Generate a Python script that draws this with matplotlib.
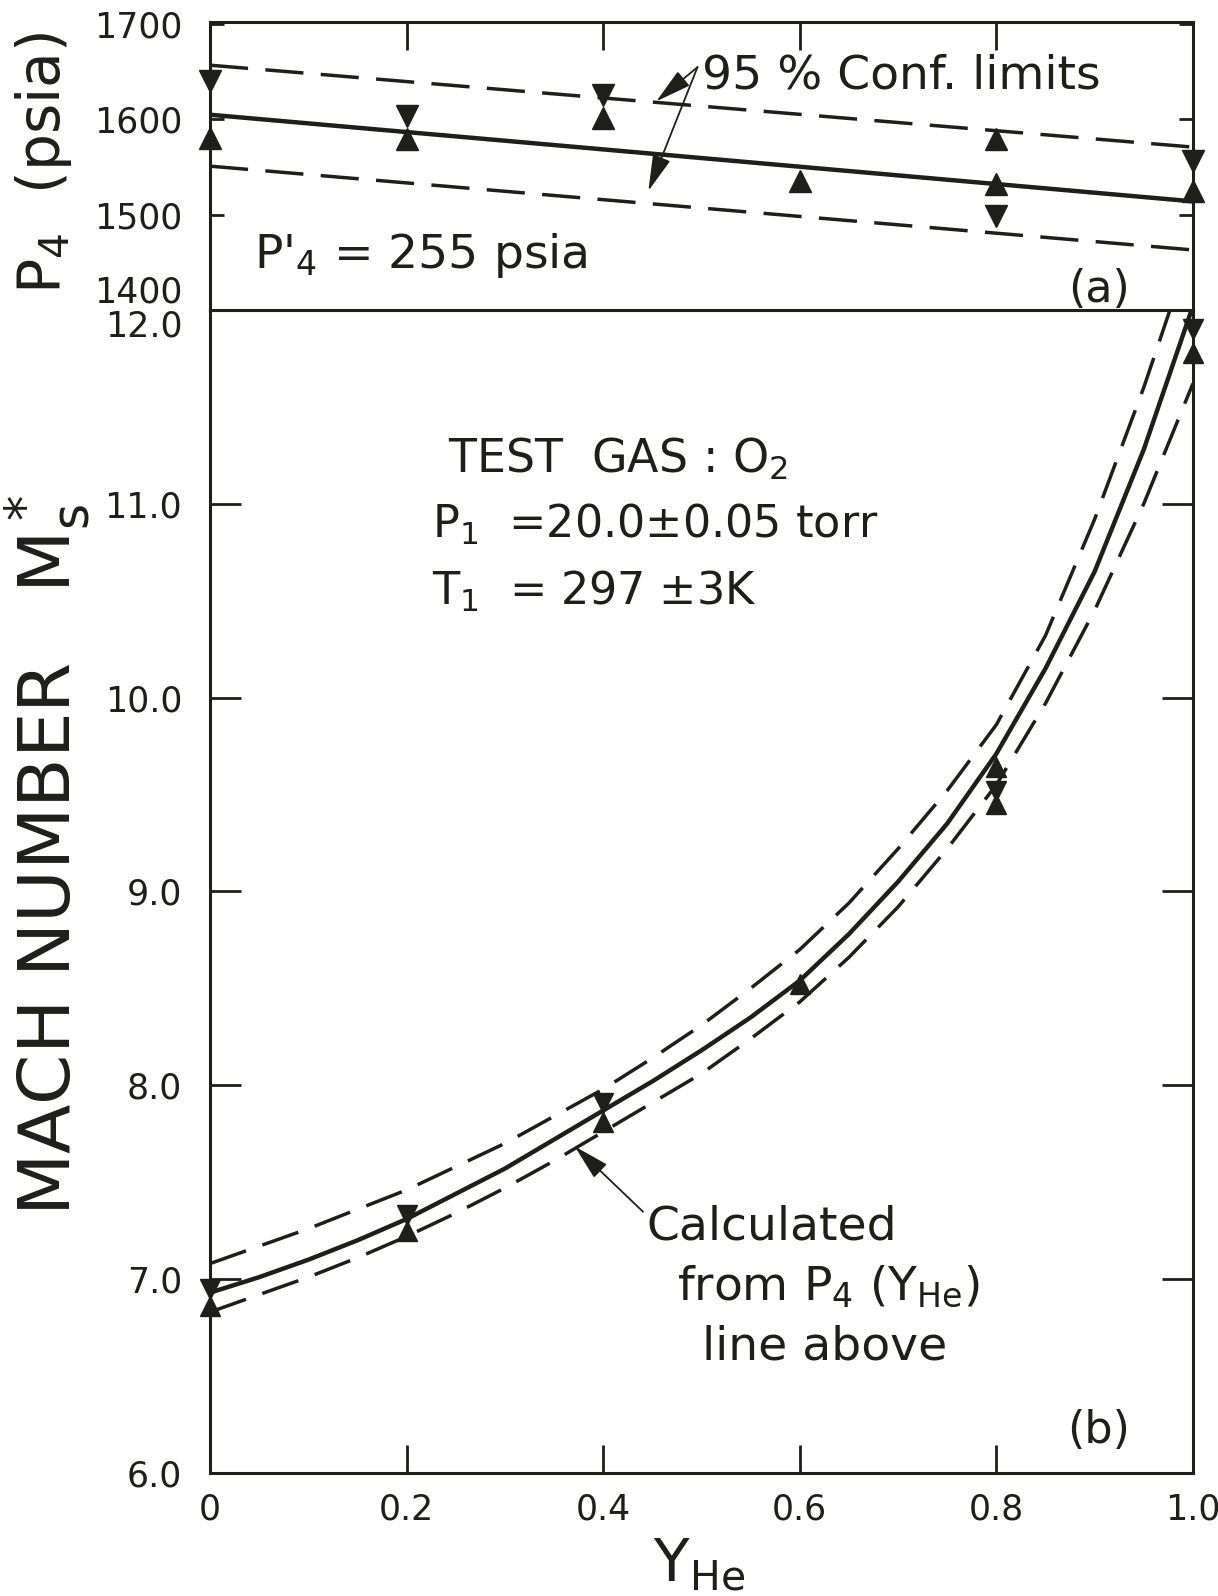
import matplotlib
matplotlib.use("Agg")
import matplotlib.pyplot as plt

# (a) driver pressure P4 against helium fraction in the driver
p4_line_x = [0.0, 1.0]
p4_fit = [1605, 1514]
p4_upper = [1657, 1571]
p4_lower = [1551, 1463]

p4_up_x = [0.0, 0.2, 0.4, 0.6, 0.8, 0.8, 1.0]
p4_up = [1581, 1580, 1602, 1535, 1580, 1532, 1525]
p4_down_x = [0.0, 0.2, 0.4, 0.8, 1.0]
p4_down = [1640, 1604, 1626, 1499, 1556]

# (b) shock Mach number calculated from the P4 line, with its limits
ms_x = [0.0, 0.05, 0.1, 0.15, 0.2, 0.25, 0.3, 0.35, 0.4, 0.45, 0.5,
        0.55, 0.6, 0.65, 0.7, 0.75, 0.8, 0.85, 0.9, 0.95, 1.0]
ms_calc = [6.93, 7.01, 7.10, 7.20, 7.31, 7.44, 7.57, 7.72, 7.87, 8.02, 8.18,
           8.35, 8.54, 8.78, 9.05, 9.35, 9.71, 10.15, 10.65, 11.28, 12.02]
ms_upper = [7.08, 7.17, 7.26, 7.36, 7.46, 7.58, 7.70, 7.84, 7.98, 8.14, 8.31,
            8.50, 8.70, 8.94, 9.22, 9.52, 9.86, 10.32, 10.92, 11.60, 12.35]
ms_lower = [6.83, 6.92, 7.01, 7.11, 7.22, 7.34, 7.47, 7.61, 7.76, 7.91, 8.06,
            8.24, 8.43, 8.66, 8.92, 9.22, 9.55, 9.97, 10.45, 11.00, 11.62]

ms_up_x = [0.0, 0.2, 0.4, 0.6, 0.8, 0.8, 1.0]
ms_up = [6.86, 7.25, 7.81, 8.52, 9.64, 9.45, 11.78]
ms_down_x = [0.0, 0.2, 0.4, 0.8, 1.0]
ms_down = [6.95, 7.33, 7.91, 9.52, 11.90]

x_ticks = [0.0, 0.2, 0.4, 0.6, 0.8, 1.0]
x_ticklabels = ["0", "0.2", "0.4", "0.6", "0.8", "1.0"]
p4_ticks = [1400, 1500, 1600, 1700]
ms_ticks = [6, 7, 8, 9, 10, 11, 12]
ms_ticklabels = ["6.0", "7.0", "8.0", "9.0", "10.0", "11.0", "12.0"]

ink = "#1e1e1a"
plt.rcParams["font.family"] = "DejaVu Sans"
plt.rcParams["text.color"] = ink
plt.rcParams["axes.edgecolor"] = ink
plt.rcParams["xtick.color"] = ink
plt.rcParams["ytick.color"] = ink

fig = plt.figure(figsize=(12.18, 15.96), dpi=100)
ax_b = fig.add_axes([0.1724, 0.0771, 0.807, 0.7287])
ax_a = fig.add_axes([0.1724, 0.8058, 0.807, 0.1802])

dash = (11, 5)
arrow = dict(arrowstyle="-|>,head_length=0.7,head_width=0.18", lw=1.3,
             color=ink, mutation_scale=32, shrinkA=0, shrinkB=0)

# --- panel (a)
ax_a.plot(p4_line_x, p4_fit, color=ink, lw=3.2)
ax_a.plot(p4_line_x, p4_upper, color=ink, lw=2.5, dashes=dash)
ax_a.plot(p4_line_x, p4_lower, color=ink, lw=2.5, dashes=dash)
ax_a.plot(p4_up_x, p4_up, ls="none", marker="^", ms=16, color=ink, clip_on=False, zorder=4)
ax_a.plot(p4_down_x, p4_down, ls="none", marker="v", ms=16, color=ink, clip_on=False, zorder=4)

ax_a.set_xlim(0, 1)
ax_a.set_ylim(1400, 1702)
ax_a.set_xticks(x_ticks[1:-1])
ax_a.set_yticks(p4_ticks)
ax_a.tick_params(axis="x", bottom=False, top=True, labelbottom=False,
                 direction="in", length=20, width=2)
ax_a.tick_params(axis="y", left=True, right=True, direction="in",
                 length=10, width=2, labelsize=25, pad=20)
ax_a.get_yticklabels()[0].set_va("bottom")

ax_a.text(0.5005, 1646, "95 % Conf. limits", fontsize=34, ha="left", va="center")
ax_a.annotate("", xy=(0.454, 1619), xytext=(0.496, 1655), arrowprops=arrow)
ax_a.annotate("", xy=(0.446, 1525), xytext=(0.496, 1655), arrowprops=arrow)
ax_a.text(0.045, 1457, r"P$'_4$ = 255 psia", fontsize=34, ha="left", va="center")
ax_a.text(0.904, 1421, "(a)", fontsize=32, ha="center", va="center")

# --- panel (b)
ax_b.plot(ms_x, ms_calc, color=ink, lw=3.2)
ax_b.plot(ms_x, ms_upper, color=ink, lw=2.5, dashes=dash)
ax_b.plot(ms_x, ms_lower, color=ink, lw=2.5, dashes=dash)
ax_b.plot(ms_up_x, ms_up, ls="none", marker="^", ms=14, color=ink, clip_on=False, zorder=4)
ax_b.plot(ms_down_x, ms_down, ls="none", marker="v", ms=14, color=ink, clip_on=False, zorder=4)

ax_b.set_xlim(0, 1)
ax_b.set_ylim(6.0, 12.0)
ax_b.set_xticks(x_ticks)
ax_b.set_xticklabels(x_ticklabels)
ax_b.set_yticks(ms_ticks)
ax_b.set_yticklabels(ms_ticklabels)
ax_b.tick_params(axis="x", direction="in", length=20, width=2, labelsize=25, pad=14)
ax_b.tick_params(axis="y", left=True, right=True, direction="in",
                 length=22, width=2, labelsize=25, pad=20)
ax_b.get_yticklabels()[-1].set_va("top")

ax_b.text(0.242, 11.23, r"TEST  GAS : O$_2$", fontsize=33, ha="left", va="center")
ax_b.text(0.226, 10.895, r"P$_1$  =20.0±0.05 torr", fontsize=32, ha="left", va="center")
ax_b.text(0.226, 10.55, r"T$_1$  = 297 ±3K", fontsize=32, ha="left", va="center")

ax_b.annotate("", xy=(0.371, 7.685), xytext=(0.4405, 7.348), arrowprops=arrow)
ax_b.text(0.4435, 7.27, "Calculated", fontsize=34, ha="left", va="center")
ax_b.text(0.475, 6.96, r"from P$_4$ (Y$_{\mathregular{He}}$)", fontsize=34, ha="left", va="center")
ax_b.text(0.5005, 6.65, "line above", fontsize=34, ha="left", va="center")
ax_b.text(0.904, 6.22, "(b)", fontsize=32, ha="center", va="center")

for ax in (ax_a, ax_b):
    for sp in ax.spines.values():
        sp.set_linewidth(2.2)

fig.text(0.036, 0.898, r"P$_4$  (psia)", fontsize=42, rotation=90, ha="center", va="center")
fig.text(0.039, 0.4643, r"MACH NUMBER   M$^*_{\mathregular{s}}$", fontsize=52,
         rotation=90, ha="center", va="center")
fig.text(0.574, 0.02, r"Y$_{\mathregular{He}}$", fontsize=42, ha="center", va="center")

fig.savefig("out.png", dpi=100)
